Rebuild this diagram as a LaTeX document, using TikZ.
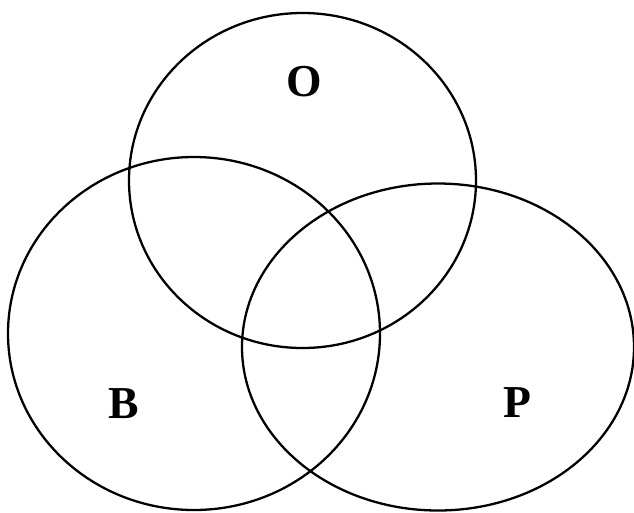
\documentclass[tikz,border=0pt]{standalone}
\usepackage{fontspec}
\setmainfont{Liberation Serif}[BoldFont={Liberation Serif Bold}]

\begin{document}
\begin{tikzpicture}[
  set/.style={black, line width=1.3pt},
  label/.style={font=\fontsize{26}{30}\selectfont\bfseries, inner sep=0pt},
]
\useasboundingbox (0,0) rectangle (12.68,-10.24);

% ===== Sets =====
\draw[set] (6.05,-3.61) ellipse [x radius=3.47, y radius=3.35];
\draw[set] (3.88,-6.67) ellipse [x radius=3.72, y radius=3.53];
\draw[set] (8.76,-6.94) ellipse [x radius=3.92, y radius=3.27];

% ===== Labels =====
\node[label] (O) at (6.08,-1.64) {O};
\node[label] (B) at (2.48,-8.08) {B};
\node[label] (P) at (10.35,-8.06) {P};

\end{tikzpicture}
\end{document}
